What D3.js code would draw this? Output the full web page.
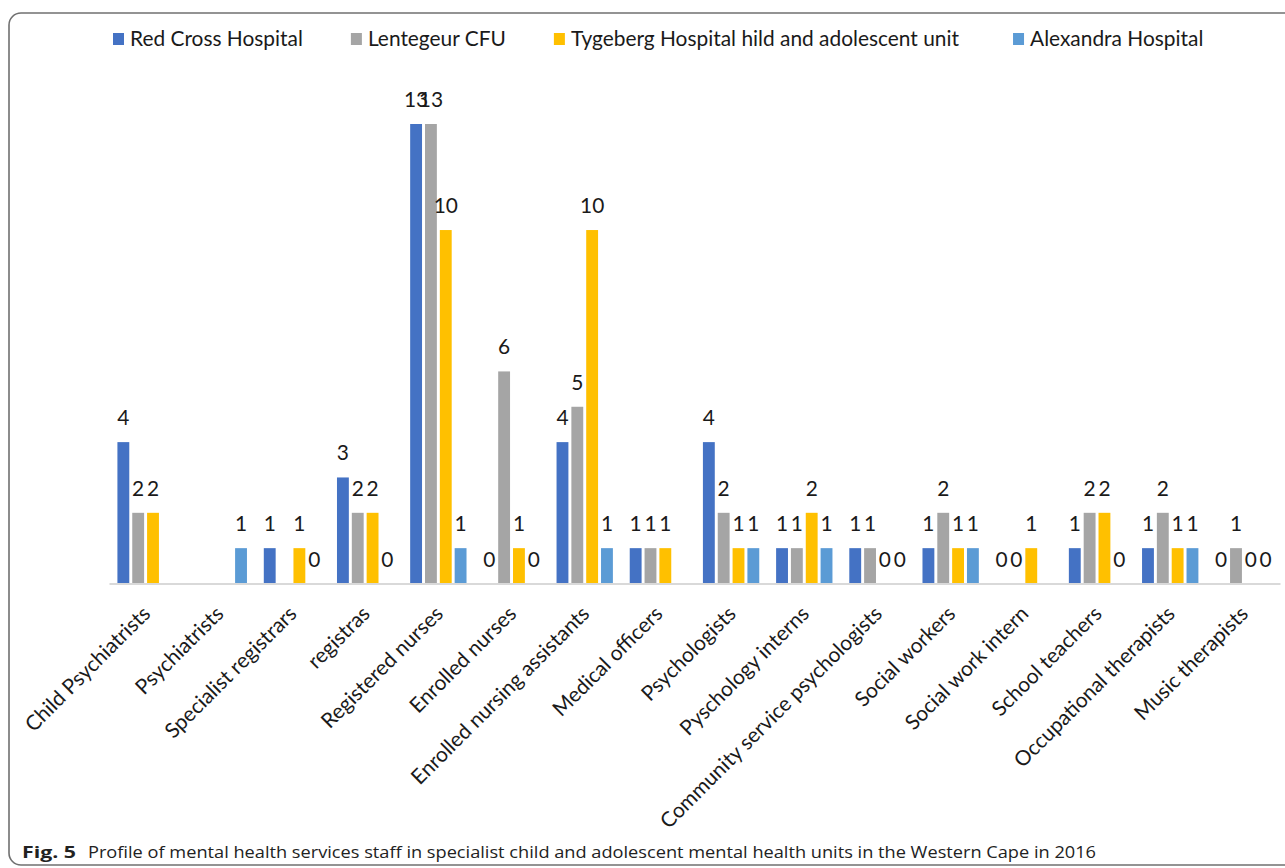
<!DOCTYPE html>
<html><head><meta charset="utf-8">
<script src="https://cdn.jsdelivr.net/npm/d3@7"></script>
<style>body{margin:0;background:#fff}svg{display:block}</style>
</head><body>
<svg id="chart" width="1285" height="868"></svg>
<script>
const categories = ["Child Psychiatrists","Psychiatrists","Specialist registrars","registras","Registered nurses","Enrolled nurses","Enrolled nursing assistants","Medical officers","Psychologists","Pyschology interns","Community service psychologists","Social workers","Social work intern","School teachers","Occupational therapists","Music therapists"];
const seriesNames = ["Red Cross Hospital","Lentegeur CFU","Tygeberg Hospital hild and adolescent unit","Alexandra Hospital"];
const seriesColors = ["#4472C4","#A5A5A5","#FFC000","#5B9BD5"];
const redCross   = [4, null, 1, 3, 13, 0, 4, 1, 4, 1, 1, 1, 0, 1, 1, 0];
const lentegeur  = [2, null, null, 2, 13, 6, 5, 1, 2, 1, 1, 2, 0, 2, 2, 1];
const tygeberg   = [2, null, 1, 2, 10, 1, 10, 1, 1, 2, 0, 1, 1, 2, 1, 0];
const alexandra  = [null, 1, 0, 0, 1, 0, 1, null, 1, 1, 0, 1, null, 0, 1, 0];
const seriesValues = [redCross, lentegeur, tygeberg, alexandra];
const captionBold = "Fig. 5";
const captionText = "Profile of mental health services staff in specialist child and adolescent mental health units in the Western Cape in 2016";

const svg = d3.select("#chart");
const FONT = "Lato, 'Open Sans', sans-serif";

const probe = svg.append("text").attr("font-family", FONT).attr("font-size", 20).text(seriesNames[0]);
const fs = 20 * 173 / probe.node().getComputedTextLength();
probe.remove();

svg.append("rect").attr("x", 9).attr("y", 13).attr("width", 1300).attr("height", 852)
  .attr("rx", 12).attr("fill", "none").attr("stroke", "#707070").attr("stroke-width", 1.6);

const x0 = d3.scaleBand().domain(categories).range([109, 1280]).padding(0);
const cw = x0.bandwidth();
const x1 = d3.scaleBand().domain(d3.range(4)).range([cw * 0.115, cw * 0.885]).paddingInner(0.2).paddingOuter(0);
const y = d3.scaleLinear().domain([0, 13]).range([583.5, 124]);

const g = svg.append("g");
categories.forEach((c, i) => {
  const cg = g.append("g").attr("transform", `translate(${x0(c)},0)`);
  seriesValues.forEach((vals, s) => {
    const v = vals[i];
    if (v === null) return;
    if (v > 0) {
      cg.append("rect").attr("x", x1(s)).attr("width", x1.bandwidth())
        .attr("y", y(v)).attr("height", y(0) - y(v)).attr("fill", seriesColors[s]);
    }
    cg.append("text").attr("x", x1(s) + x1.bandwidth() / 2).attr("y", y(v) - 17)
      .attr("text-anchor", "middle").attr("font-family", FONT).attr("font-size", fs)
      .attr("fill", "#1a1a1a").text(v);
  });
});

const axis = d3.axisBottom(x0).tickSize(0).tickFormat("");
const ax = svg.append("g").attr("transform", `translate(0,${y(0)})`).call(axis);
ax.select(".domain").attr("stroke", "#d9d9d9").attr("stroke-width", 2);

svg.append("g").selectAll("text").data(categories).join("text")
  .attr("transform", d => `translate(${x0(d) + cw / 2 + 6},615) rotate(-45)`)
  .attr("text-anchor", "end").attr("font-family", FONT).attr("font-size", fs)
  .attr("fill", "#1a1a1a").text(d => d);

const legendGaps = [48, 48, 54];
let lx = 113;
seriesNames.forEach((n, s) => {
  svg.append("rect").attr("x", lx).attr("y", 33).attr("width", 11).attr("height", 12).attr("fill", seriesColors[s]);
  const t = svg.append("text").attr("x", lx + 17).attr("y", 46).attr("font-family", FONT)
    .attr("font-size", fs).attr("fill", "#1a1a1a").text(n);
  lx += 17 + t.node().getComputedTextLength() + (legendGaps[s] || 48);
});

svg.append("text").attr("x", 22).attr("y", 858).attr("font-family", "'Open Sans', sans-serif")
  .attr("font-weight", "bold").attr("font-size", 16).attr("textLength", 54).attr("lengthAdjust", "spacingAndGlyphs")
  .attr("fill", "#222").text(captionBold);
svg.append("text").attr("x", 88).attr("y", 858).attr("font-family", "'Open Sans', sans-serif")
  .attr("font-size", 16).attr("textLength", 1008).attr("lengthAdjust", "spacingAndGlyphs")
  .attr("fill", "#222").text(captionText);
</script>
</body></html>
